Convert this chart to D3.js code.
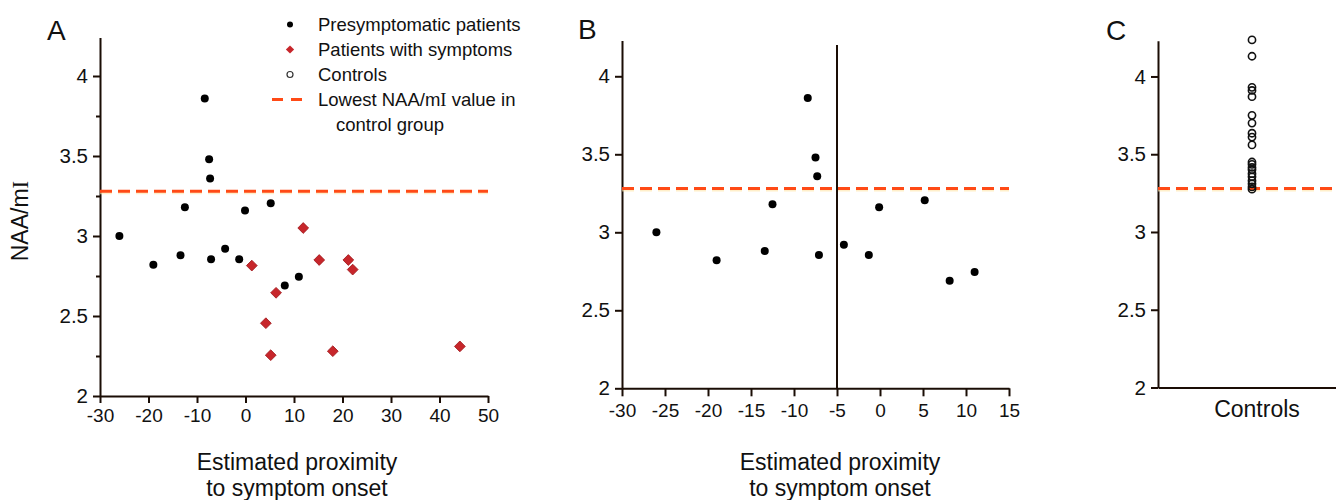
<!DOCTYPE html>
<html>
<head>
<meta charset="utf-8">
<script src="https://cdn.jsdelivr.net/npm/d3@7"></script>
</head>
<body style="margin:0;background:#fff">
<div id="chart"></div>
<script>
// data
const presymX = [-26, -19, -13.4, -12.5, -8.4, -7.5, -7.3, -7.1, -4.2, -1.3, -0.1, 5.2, 8.1, 11.0];
const presymY = [3.0, 2.82, 2.88, 3.18, 3.86, 3.48, 3.36, 2.855, 2.92, 2.855, 3.16, 3.205, 2.69, 2.745];
const sympX = [1.3, 4.2, 5.2, 6.3, 11.9, 15.2, 18.0, 21.2, 22.1, 44.2];
const sympY = [2.815, 2.455, 2.255, 2.645, 3.05, 2.85, 2.28, 2.85, 2.79, 2.31];
const controlsY = [4.235, 4.13, 3.93, 3.91, 3.87, 3.75, 3.70, 3.635, 3.61, 3.56, 3.45, 3.435, 3.415, 3.40, 3.375, 3.355, 3.33, 3.31, 3.29, 3.275];
const lowestControl = 3.28;
const onsetCut = -5;

const ticksY = [2, 2.5, 3, 3.5, 4];
const minorY = [2.25, 2.75, 3.25, 3.75];
const ticksXA = [-30, -20, -10, 0, 10, 20, 30, 40, 50];
const ticksXB = [-30, -25, -20, -15, -10, -5, 0, 5, 10, 15];
const categoriesC = ["Controls"];

const legendItems = ["Presymptomatic patients", "Patients with symptoms", "Controls", "Lowest NAA/mI value in"];

const W = 1336, H = 500;
const red = "#c7262b", orange = "#ff4a16", ink = "#111", axisInk = "#1a0d05";
const FONT = "'Liberation Sans', Arial, sans-serif";
const SERIF = "'Liberation Serif', 'DejaVu Serif', serif";

const svg = d3.select("#chart").append("svg")
  .attr("width", W).attr("height", H)
  .style("font-family", FONT);

const presym = presymX.map((x, i) => ({ x: x, y: presymY[i] }));
const symp = sympX.map((x, i) => ({ x: x, y: sympY[i] }));

const diamond = d3.symbol(d3.symbolSquare, 58);

// plain hyphen for negatives, like the original
const fmt = d => String(d);

// style an axis group directly (inline styles, so d3's defaults are overridden)
function styleAxis(g, size) {
  g.attr("font-family", FONT).attr("font-size", size);
  g.selectAll("path, line").attr("stroke", axisInk).attr("stroke-width", 2);
  g.selectAll("text").style("font-size", size + "px").style("font-family", FONT).attr("fill", ink);
  return g;
}

function dashLine(g, x0, x1, yy) {
  g.append("line")
    .attr("x1", x0).attr("x2", x1)
    .attr("y1", yy + 2).attr("y2", yy + 2)
    .attr("stroke", "#ffe6a8").attr("stroke-width", 2)
    .attr("stroke-dasharray", "12,6").attr("opacity", 0.6);
  g.append("line")
    .attr("x1", x0).attr("x2", x1)
    .attr("y1", yy).attr("y2", yy)
    .attr("stroke", orange).attr("stroke-width", 3)
    .attr("stroke-dasharray", "12,6");
}

function panelLetter(t, x, y) {
  svg.append("text").attr("x", x).attr("y", y)
    .attr("font-size", 28).attr("fill", ink).text(t);
}

function xTitle(cx) {
  const t = svg.append("text").attr("text-anchor", "middle")
    .attr("font-size", 23).attr("fill", ink);
  t.append("tspan").attr("x", cx).attr("y", 470).text("Estimated proximity");
  t.append("tspan").attr("x", cx).attr("y", 496).text("to symptom onset");
}

// ---------- panel A ----------
const xA = d3.scaleLinear().domain([-30, 50]).range([100, 488]);
const yA = d3.scaleLinear().domain([2, 4.24]).range([396, 37.6]);
const gA = svg.append("g");

gA.append("g")
  .attr("transform", `translate(0,${yA(2)})`)
  .call(d3.axisBottom(xA).tickValues(ticksXA).tickFormat(fmt).tickSize(7).tickSizeOuter(0).tickPadding(6))
  .call(styleAxis, 19);
gA.append("g")
  .attr("transform", `translate(${xA(-30)},0)`)
  .call(d3.axisLeft(yA).tickValues(ticksY).tickFormat(fmt).tickSize(7).tickSizeOuter(0).tickPadding(5))
  .call(styleAxis, 20.5);
gA.append("g")
  .attr("transform", `translate(${xA(-30)},0)`)
  .call(d3.axisLeft(yA).tickValues(minorY).tickFormat("").tickSize(4).tickSizeOuter(0))
  .call(styleAxis, 10)
  .select(".domain").remove();

dashLine(gA, xA(-30), xA(50), yA(lowestControl));

gA.selectAll("circle.pre").data(presym).join("circle")
  .attr("class", "pre")
  .attr("cx", d => xA(d.x)).attr("cy", d => yA(d.y))
  .attr("r", 4).attr("fill", "#000");

gA.selectAll("path.sym").data(symp).join("path")
  .attr("class", "sym")
  .attr("d", diamond)
  .attr("transform", d => `translate(${xA(d.x)},${yA(d.y)}) rotate(45)`)
  .attr("fill", red).attr("stroke", "#a01a1e").attr("stroke-width", 0.8);

// y title
const yt = svg.append("text")
  .attr("transform", "translate(28,221) rotate(-90)")
  .attr("text-anchor", "middle").attr("font-size", 23).attr("fill", ink);
yt.append("tspan").text("NAA/m");
yt.append("tspan").attr("font-family", SERIF).text("I");

panelLetter("A", 47, 40);
xTitle(297);

// legend
const lg = svg.append("g").attr("font-size", 18.5).attr("fill", ink);
const legY = d3.scaleBand().domain(legendItems).range([12, 112]);
const lx = 318;
legendItems.forEach((t, i) => {
  const cy = legY(t) + legY.bandwidth() / 2;
  const txt = lg.append("text").attr("x", lx).attr("y", cy).attr("dy", "0.35em");
  if (t.indexOf("mI") >= 0) {
    txt.append("tspan").text("Lowest NAA/m");
    txt.append("tspan").attr("font-family", SERIF).text("I");
    txt.append("tspan").text(" value in");
  } else {
    txt.text(t);
  }
  if (i === 0) lg.append("circle").attr("cx", 290).attr("cy", cy).attr("r", 3).attr("fill", "#000");
  if (i === 1) lg.append("path").attr("d", d3.symbol(d3.symbolSquare, 34))
    .attr("transform", `translate(290,${cy}) rotate(45)`).attr("fill", red);
  if (i === 2) lg.append("circle").attr("cx", 290).attr("cy", cy).attr("r", 3)
    .attr("fill", "#fff").attr("stroke", "#333").attr("stroke-width", 1.2);
  if (i === 3) lg.append("line").attr("x1", 272).attr("x2", 304).attr("y1", cy).attr("y2", cy)
    .attr("stroke", orange).attr("stroke-width", 3).attr("stroke-dasharray", "11,8");
});
lg.append("text").attr("x", 336).attr("y", legY(legendItems[3]) + legY.bandwidth() * 1.5)
  .attr("dy", "0.35em").text("control group");

// ---------- panel B ----------
const xB = d3.scaleLinear().domain([-30, 15]).range([622, 1009]);
const yB = d3.scaleLinear().domain([2, 4.23]).range([388.3, 40.4]);
const gB = svg.append("g");

gB.append("g")
  .attr("transform", `translate(0,${yB(2)})`)
  .call(d3.axisBottom(xB).tickValues(ticksXB).tickFormat(fmt).tickSize(8).tickSizeOuter(0).tickPadding(7))
  .call(styleAxis, 19);
gB.append("g")
  .attr("transform", `translate(${xB(-30)},0)`)
  .call(d3.axisLeft(yB).tickValues(ticksY).tickFormat(fmt).tickSize(7).tickSizeOuter(0).tickPadding(5))
  .call(styleAxis, 20.5);

gB.append("line")
  .attr("x1", xB(onsetCut)).attr("x2", xB(onsetCut))
  .attr("y1", yB(4.2)).attr("y2", yB(2))
  .attr("stroke", axisInk).attr("stroke-width", 2);

dashLine(gB, xB(-30), xB(15), yB(lowestControl));

gB.selectAll("circle.pre").data(presym).join("circle")
  .attr("class", "pre")
  .attr("cx", d => xB(d.x)).attr("cy", d => yB(d.y))
  .attr("r", 4).attr("fill", "#000");

panelLetter("B", 578, 39);
xTitle(840);

// ---------- panel C ----------
const xC = d3.scaleBand().domain(categoriesC).range([1158, 1356]);
const yC = d3.scaleLinear().domain([2, 4.23]).range([387.5, 40.7]);
const gC = svg.append("g");

gC.append("g")
  .attr("transform", `translate(0,${yC(2)})`)
  .call(d3.axisBottom(xC).tickSize(0).tickSizeOuter(0).tickPadding(13))
  .call(styleAxis, 23);
gC.append("g")
  .attr("transform", `translate(${xC.range()[0]},0)`)
  .call(d3.axisLeft(yC).tickValues(ticksY).tickFormat(fmt).tickSize(7).tickSizeOuter(0).tickPadding(5))
  .call(styleAxis, 20.5);

dashLine(gC, 1158, W, yC(lowestControl));

gC.selectAll("circle.ctl").data(controlsY).join("circle")
  .attr("class", "ctl")
  .attr("cx", xC("Controls") + xC.bandwidth() / 2 - 5)
  .attr("cy", d => yC(d))
  .attr("r", 3.6).attr("fill", "none")
  .attr("stroke", "#111").attr("stroke-width", 1.6);

panelLetter("C", 1106, 40);
</script>
</body>
</html>
